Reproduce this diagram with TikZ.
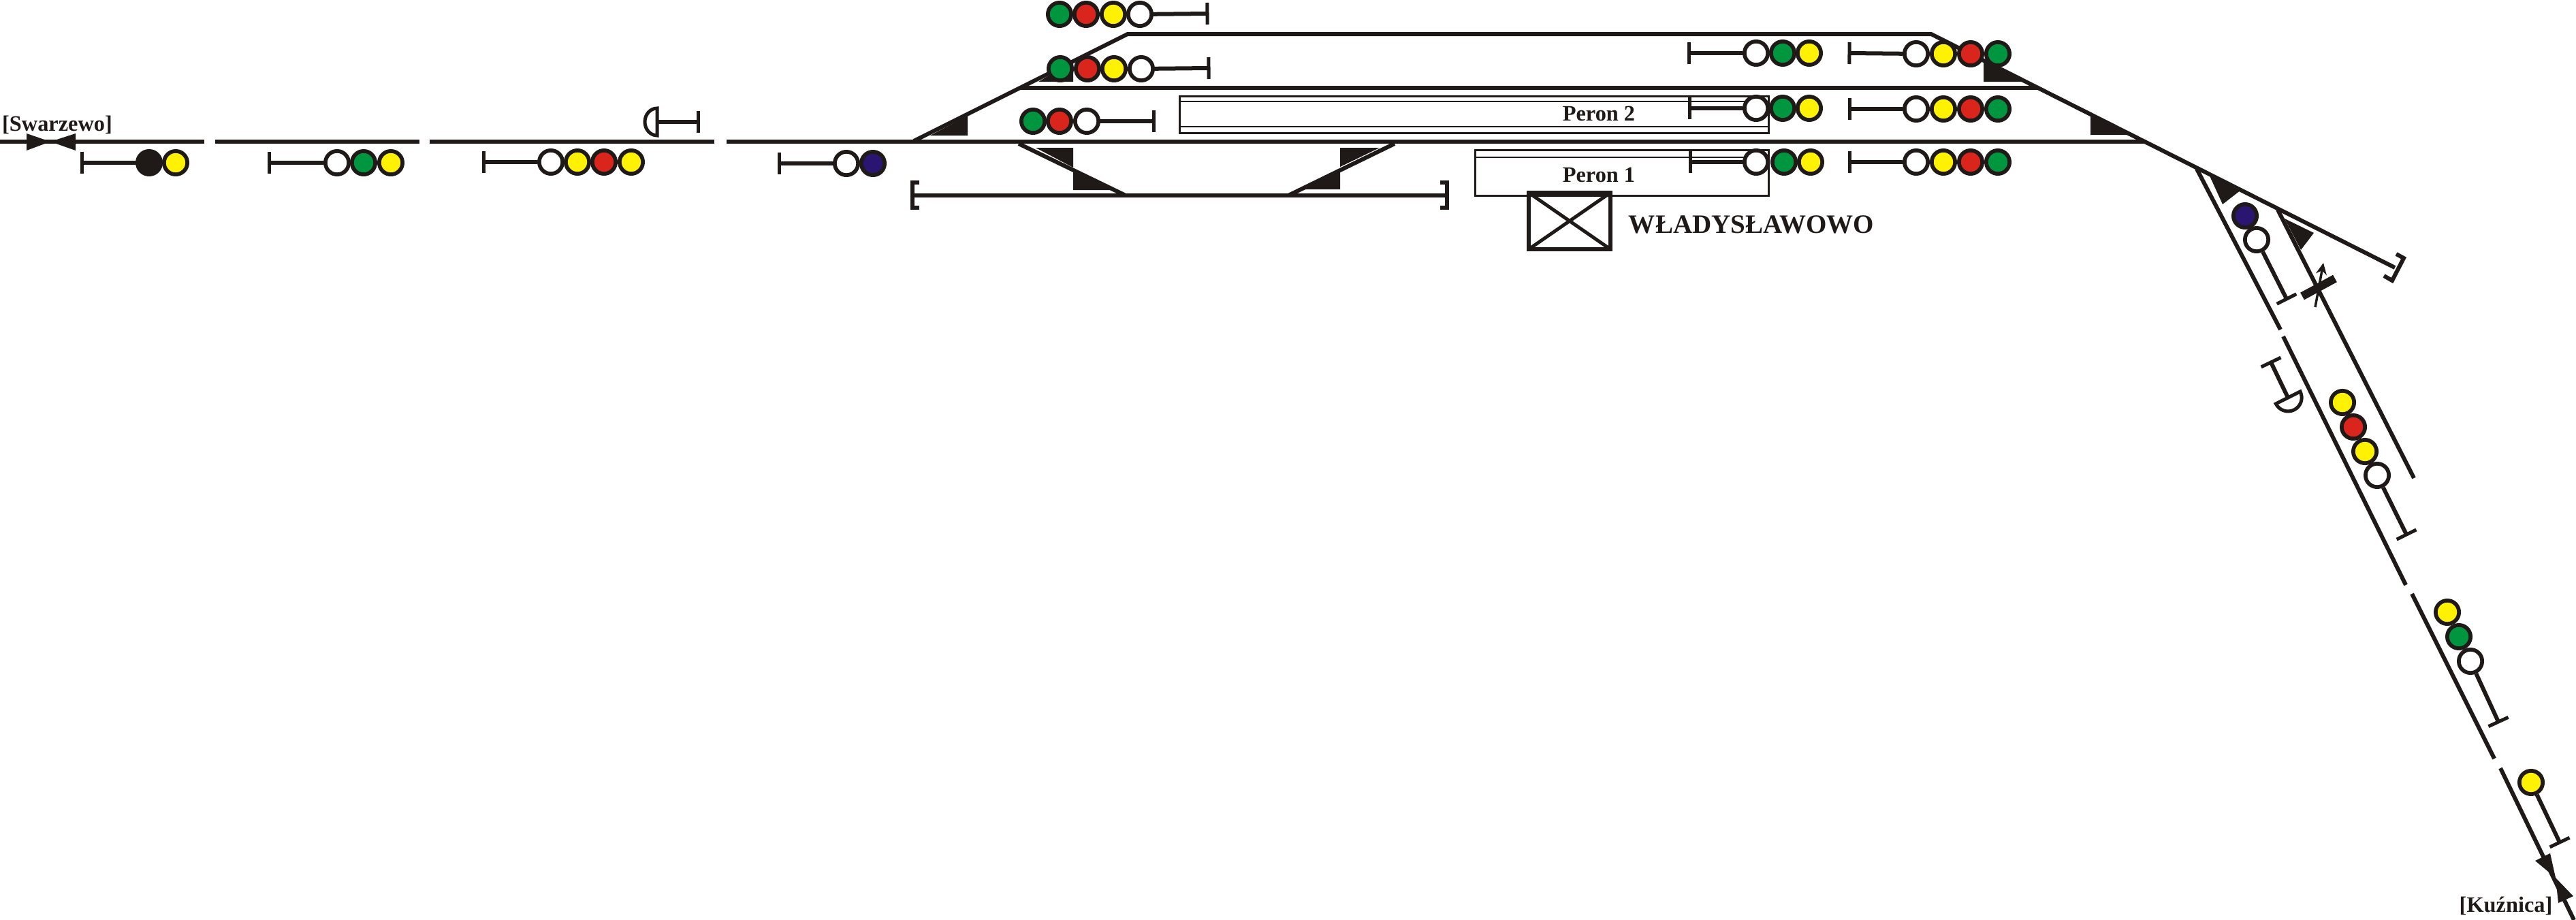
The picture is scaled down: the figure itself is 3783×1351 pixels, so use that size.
\documentclass[tikz,border=0pt]{standalone}
\usepackage{fontspec}
\setmainfont{Liberation Serif}
\usetikzlibrary{arrows.meta}
\definecolor{ink}{HTML}{1F1A17}
\definecolor{sgreen}{HTML}{009640}
\definecolor{sred}{HTML}{DA251C}
\definecolor{syellow}{HTML}{FFF200}
\definecolor{sblue}{HTML}{2A1570}
\begin{document}
\begin{tikzpicture}[x=0.01cm, y=-0.01cm,
		track/.style={ink, line width=0.06cm},
		wedge/.style={fill=ink},
		thinline/.style={ink, line width=0.025cm},
		lamp/.style={circle, draw=ink, line width=0.057cm, minimum size=0.343cm, inner sep=0pt, fill=white},
		stem/.style={ink, line width=0.06cm, shorten >=-0.025cm, -{Bar[width=0.32cm, line width=0.05cm]}},
		label/.style={ink, inner sep=0pt, font=\fontsize{9.2}{11}\selectfont\bfseries}]
	\useasboundingbox (0,0) rectangle (3783,1351);
		%Main line
	\draw[track] (0,208) -- (300,208);
	\draw[track] (316,208) -- (616,208);
	\draw[track] (631,208) -- (1049,208);
	\draw[track] (1067,208) -- (3152,208);
		%Upper tracks
	\draw[track] (1342,207) -- (1656,50) -- (2836,50) -- (3517,393); %Track reaching the far end
	\draw[track] (1497,129) -- (2992,129);
	\draw[track] (3519,373) -- (3530,379) -- (3513,412) -- (3501,405); %Buffer stop
		%Siding under the main line
	\draw[track] (1496,211) -- (1653,287);
	\draw[track] (2048,211) -- (1892,287);
	\draw[track] (1342,287) -- (2122,287);
	\draw[track] (1350,268) -- (1340,268) -- (1340,305) -- (1350,305);
	\draw[track] (2115,268) -- (2125,268) -- (2125,305) -- (2115,305);
		%Branch towards the south-east
	\draw[track] (3226,248) -- (3349,484);
	\draw[track] (3353,494) -- (3533,859);
	\draw[track] (3542,872) -- (3663,1114);
	\draw[track] (3672,1128) -- (3780,1351);
	\draw[track] (3345,308) -- (3545,702); %Second branch
		%Switch wedges
	\fill[wedge] (1421,170) -- (1421,199) -- (1366,199) -- cycle;
	\fill[wedge] (1576,90) -- (1576,120) -- (1525,120) -- cycle;
	\fill[wedge] (1576,217) -- (1576,246) -- (1521,217) -- cycle;
	\fill[wedge] (1576,250) -- (1576,279) -- (1633,279) -- cycle;
	\fill[wedge] (1968,217) -- (2026,217) -- (1968,245) -- cycle;
	\fill[wedge] (1968,250) -- (1968,278) -- (1911,278) -- cycle;
	\fill[wedge] (2913,90) -- (2913,120) -- (2972,120) -- cycle;
	\fill[wedge] (3070,171) -- (3070,198) -- (3126,198) -- cycle;
	\fill[wedge] (3243,254) -- (3291,279) -- (3264,300) -- cycle;
	\fill[wedge] (3355,321) -- (3398,342) -- (3379,367) -- cycle;
		%Line ends
	\fill[wedge] (39,196) -- (74,208) -- (39,221) -- cycle;
	\fill[wedge] (111,196) -- (74,208) -- (111,221) -- cycle;
	\fill[wedge] (3723,1264) -- (3745,1253) -- (3753,1289) -- cycle;
	\fill[wedge] (3757,1326) -- (3779,1316) -- (3753,1289) -- cycle;
		%Platforms and station building
	\draw[ink, line width=0.03cm] (1732,141) rectangle (2597,195);
	\draw[thinline] (1732,149) -- (2597,149);
	\draw[thinline] (1732,186) -- (2597,186);
	\draw[ink, line width=0.03cm] (2166,220) rectangle (2597,287);
	\draw[thinline] (2166,231) -- (2597,231);
	\draw[track] (2245,283) rectangle (2365,366);
	\draw[ink, line width=0.05cm] (2245,283) -- (2365,366);
	\draw[ink, line width=0.05cm] (2365,283) -- (2245,366);
		%Labels
	\node[label] (swarzewo) at (84,183) {[Swarzewo]};
	\node[label] (kuznica) at (3680,1330) {[Kuźnica]};
	\node[label] (peronB) at (2348,167) {Peron 2};
	\node[label] (peronA) at (2348,257) {Peron 1};
	\node[label, font=\fontsize{11.1}{13}\selectfont\bfseries] (station) at (2572,330) {WŁADYSŁAWOWO};
		%Signals left of the station
	\node[lamp, fill=ink] (ska) at (219,239) {}; \node[lamp, fill=syellow] at (258,239) {};
	\coordinate (skaEnd) at (120,239); \draw[stem] (ska) -- (skaEnd);
	\node[lamp] (skb) at (495,239) {}; \node[lamp, fill=sgreen] at (534,239) {}; \node[lamp, fill=syellow] at (574,239) {};
	\coordinate (skbEnd) at (395,239); \draw[stem] (skb) -- (skbEnd);
	\node[lamp] (skc) at (809,238) {}; \node[lamp, fill=syellow] at (848,238) {}; \node[lamp, fill=sred] at (887,238) {}; \node[lamp, fill=syellow] at (927,238) {};
	\coordinate (skcEnd) at (710,238); \draw[stem] (skc) -- (skcEnd);
	\node[lamp] (skd) at (1243,240) {}; \node[lamp, fill=sblue] at (1282,240) {};
	\coordinate (skdEnd) at (1144,240); \draw[stem] (skd) -- (skdEnd);
		%Shunting shield over the main line
	\coordinate (shA) at (965,179); \coordinate (shAEnd) at (1025,179);
	\draw[stem] (shA) -- (shAEnd);
	\draw[ink, line width=0.05cm, fill=white] (965,159) arc[start angle=-90, end angle=-270, x radius=18, y radius=20] -- cycle;
		%Exit signals, west side
	\node[lamp, fill=sgreen] at (1556,21) {}; \node[lamp, fill=sred] at (1595,21) {}; \node[lamp, fill=syellow] at (1635,21) {}; \node[lamp] (wa) at (1674,21) {};
	\coordinate (waEnd) at (1773,20); \draw[stem] (wa) -- (waEnd);
	\node[lamp, fill=sgreen] at (1557,101) {}; \node[lamp, fill=sred] at (1597,101) {}; \node[lamp, fill=syellow] at (1636,101) {}; \node[lamp] (wb) at (1676,101) {};
	\coordinate (wbEnd) at (1775,100); \draw[stem] (wb) -- (wbEnd);
	\node[lamp, fill=sgreen] at (1517,178) {}; \node[lamp, fill=sred] at (1556,178) {}; \node[lamp] (wc) at (1596,178) {};
	\coordinate (wcEnd) at (1694,178); \draw[stem] (wc) -- (wcEnd);
		%Exit signals, east side
	\node[lamp] (ea) at (2579,78) {}; \node[lamp, fill=sgreen] at (2618,78) {}; \node[lamp, fill=syellow] at (2657,78) {};
	\coordinate (eaEnd) at (2480,78); \draw[stem] (ea) -- (eaEnd);
	\node[lamp] (eb) at (2579,159) {}; \node[lamp, fill=sgreen] at (2618,159) {}; \node[lamp, fill=syellow] at (2657,159) {};
	\coordinate (ebEnd) at (2481,159); \draw[stem] (eb) -- (ebEnd);
	\node[lamp] (ec) at (2579,238) {}; \node[lamp, fill=sgreen] at (2620,238) {}; \node[lamp, fill=syellow] at (2659,238) {};
	\coordinate (ecEnd) at (2482,238); \draw[stem] (ec) -- (ecEnd);
	\node[lamp] (fa) at (2814,79) {}; \node[lamp, fill=syellow] at (2854,79) {}; \node[lamp, fill=sred] at (2894,79) {}; \node[lamp, fill=sgreen] at (2934,79) {};
	\coordinate (faEnd) at (2716,78); \draw[stem] (fa) -- (faEnd);
	\node[lamp] (fb) at (2814,160) {}; \node[lamp, fill=syellow] at (2854,160) {}; \node[lamp, fill=sred] at (2894,160) {}; \node[lamp, fill=sgreen] at (2934,160) {};
	\coordinate (fbEnd) at (2716,160); \draw[stem] (fb) -- (fbEnd);
	\node[lamp] (fc) at (2814,238) {}; \node[lamp, fill=syellow] at (2854,238) {}; \node[lamp, fill=sred] at (2894,238) {}; \node[lamp, fill=sgreen] at (2934,238) {};
	\coordinate (fcEnd) at (2716,238); \draw[stem] (fc) -- (fcEnd);
		%Signals along the branch
	\node[lamp, fill=sblue] at (3297,317) {}; \node[lamp] (ga) at (3314,352) {};
	\coordinate (gaEnd) at (3358,439); \draw[stem] (ga) -- (gaEnd);
	\node[lamp, fill=syellow] at (3440,591) {}; \node[lamp, fill=sred] at (3456,627) {}; \node[lamp, fill=syellow] at (3473,663) {}; \node[lamp] (gb) at (3491,698) {};
	\coordinate (gbEnd) at (3534,785); \draw[stem] (gb) -- (gbEnd);
	\node[lamp, fill=syellow] at (3594,899) {}; \node[lamp, fill=sgreen] at (3611,935) {}; \node[lamp] (gc) at (3628,971) {};
	\coordinate (gcEnd) at (3669,1060); \draw[stem] (gc) -- (gcEnd);
	\node[lamp, fill=syellow] (gd) at (3717,1149) {};
	\coordinate (gdEnd) at (3759,1237); \draw[stem] (gd) -- (gdEnd);
		%Shunting shield on the branch
	\coordinate (shB) at (3360,584); \coordinate (shBEnd) at (3335,532);
	\draw[stem] (shB) -- (shBEnd);
	\draw[ink, line width=0.05cm, fill=white] (3378,575) arc[start angle=-26.6, end angle=153.4, radius=20] -- cycle;
		%Derailer on the second branch
	\draw[ink, line width=0.12cm] (3381,435) -- (3429,409);
	\draw[ink, line width=0.035cm, -{Stealth[length=0.17cm, width=0.16cm]}] (3400,451) -- (3412,386);
\end{tikzpicture}
\end{document}
